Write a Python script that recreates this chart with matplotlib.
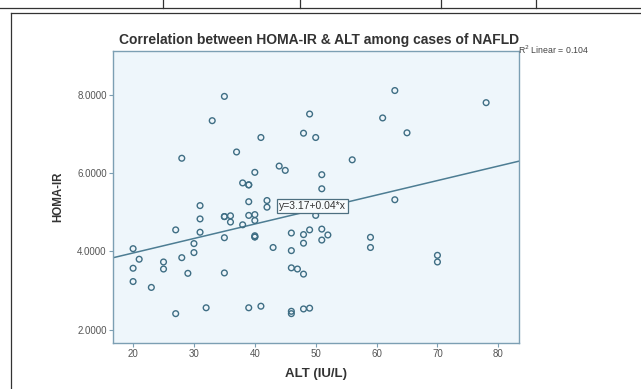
import matplotlib.pyplot as plt
import matplotlib.lines as mlines
import numpy as np

# ── Data ──────────────────────────────────────────────────
alt = [35, 33, 49, 41, 48, 50, 28, 37, 56, 44, 45, 40, 51, 51, 38, 39, 39,
       39, 42, 42, 31, 50, 35, 35, 36, 39, 40, 31, 63, 78, 61, 65, 63, 36,
       40, 38, 27, 31, 35, 40, 40, 40, 46, 48, 49, 51, 52, 51, 48, 30, 43,
       20, 30, 46, 21, 28, 25, 20, 25, 29, 35, 46, 47, 48, 20, 23, 32, 39,
       41, 27, 46, 46, 48, 49, 59, 59, 70, 70]
homa = [7.96, 7.34, 7.51, 6.91, 7.02, 6.91, 6.38, 6.54, 6.34, 6.18, 6.07,
        6.02, 5.96, 5.60, 5.75, 5.70, 5.70, 5.27, 5.30, 5.13, 5.17, 4.92,
        4.89, 4.89, 4.91, 4.92, 4.94, 4.83, 8.11, 7.80, 7.41, 7.03, 5.32,
        4.75, 4.79, 4.68, 4.55, 4.49, 4.35, 4.37, 4.37, 4.40, 4.47, 4.43,
        4.55, 4.57, 4.42, 4.29, 4.21, 4.20, 4.10, 4.07, 3.97, 4.02, 3.80,
        3.84, 3.73, 3.57, 3.55, 3.44, 3.45, 3.58, 3.55, 3.42, 3.23, 3.08,
        2.56, 2.56, 2.60, 2.41, 2.41, 2.47, 2.53, 2.55, 4.36, 4.10, 3.90,
        3.73]

fit_intercept = 3.22
fit_slope = 0.037
x_ticks = [20, 30, 40, 50, 60, 70, 80]
y_ticks = [2, 4, 6, 8]

EDGE = '#3f6e84'
SPINE = '#7c9fb3'

plt.rcParams['font.family'] = ['Liberation Sans', 'DejaVu Sans']

fig = plt.figure(figsize=(6.41, 3.89), dpi=100)
fig.patch.set_facecolor('white')

W, H = 641, 389

def fx(px):
    return px / W

def fy(py):
    return 1 - py / H

# ── Page decorations: table fragment + outer frame ────────
fig.add_artist(mlines.Line2D([0, 1], [fy(8), fy(8)], color='#333333', lw=0.9))
for vx in [163, 300, 441, 536]:
    fig.add_artist(mlines.Line2D([fx(vx), fx(vx)], [fy(0), fy(8)],
                                 color='#333333', lw=0.9))
fig.add_artist(mlines.Line2D([fx(11), 1], [fy(13), fy(13)], color='#333333', lw=0.9))
fig.add_artist(mlines.Line2D([fx(11), fx(11)], [fy(13), 0], color='#333333', lw=0.9))

# ── Scatter panel ────────────────────────────────────────
ax = fig.add_axes([fx(113), fy(343), fx(519) - fx(113), fy(51) - fy(343)])
ax.set_facecolor('#eef6fb')
ax.scatter(alt, homa, s=17, facecolors='none', edgecolors=EDGE,
           linewidths=1.0, zorder=3)

ax.set_xlim(16.7, 83.4)
ax.set_ylim(1.66, 9.12)
xs = np.array(ax.get_xlim())
ax.plot(xs, fit_intercept + fit_slope * xs, color='#4d7d93', lw=1.1, zorder=2)

ax.text(44.0, 5.17, 'y=3.17+0.04*x', fontsize=7.5, color='#333333',
        ha='left', va='center', zorder=4,
        bbox=dict(boxstyle='square,pad=0.2', facecolor='#f7fbfd',
                  edgecolor='#4d6f80', linewidth=0.9))

ax.set_xticks(x_ticks)
ax.set_yticks(y_ticks)
ax.set_yticklabels([f'{v:.4f}' for v in y_ticks])
ax.tick_params(direction='out', length=3, width=0.8, color=SPINE,
               labelsize=7, labelcolor='#555555', pad=1.5)
for s in ax.spines.values():
    s.set_color(SPINE)
    s.set_linewidth(1.0)

ax.set_xlabel('ALT (IU/L)', fontsize=9.5, fontweight='bold', color='#333333',
              labelpad=6)
ax.set_ylabel('HOMA-IR', fontsize=8.3, fontweight='bold', color='#333333',
              labelpad=9)

fig.text(fx(319), fy(40), 'Correlation between HOMA-IR & ALT among cases of NAFLD',
         ha='center', va='center', fontsize=10, fontweight='bold',
         color='#333333')
fig.text(fx(518), fy(50), 'R$^2$ Linear = 0.104', ha='left', va='center',
         fontsize=6.3, color='#444444')

fig.savefig('out.png', dpi=100, facecolor='white')
